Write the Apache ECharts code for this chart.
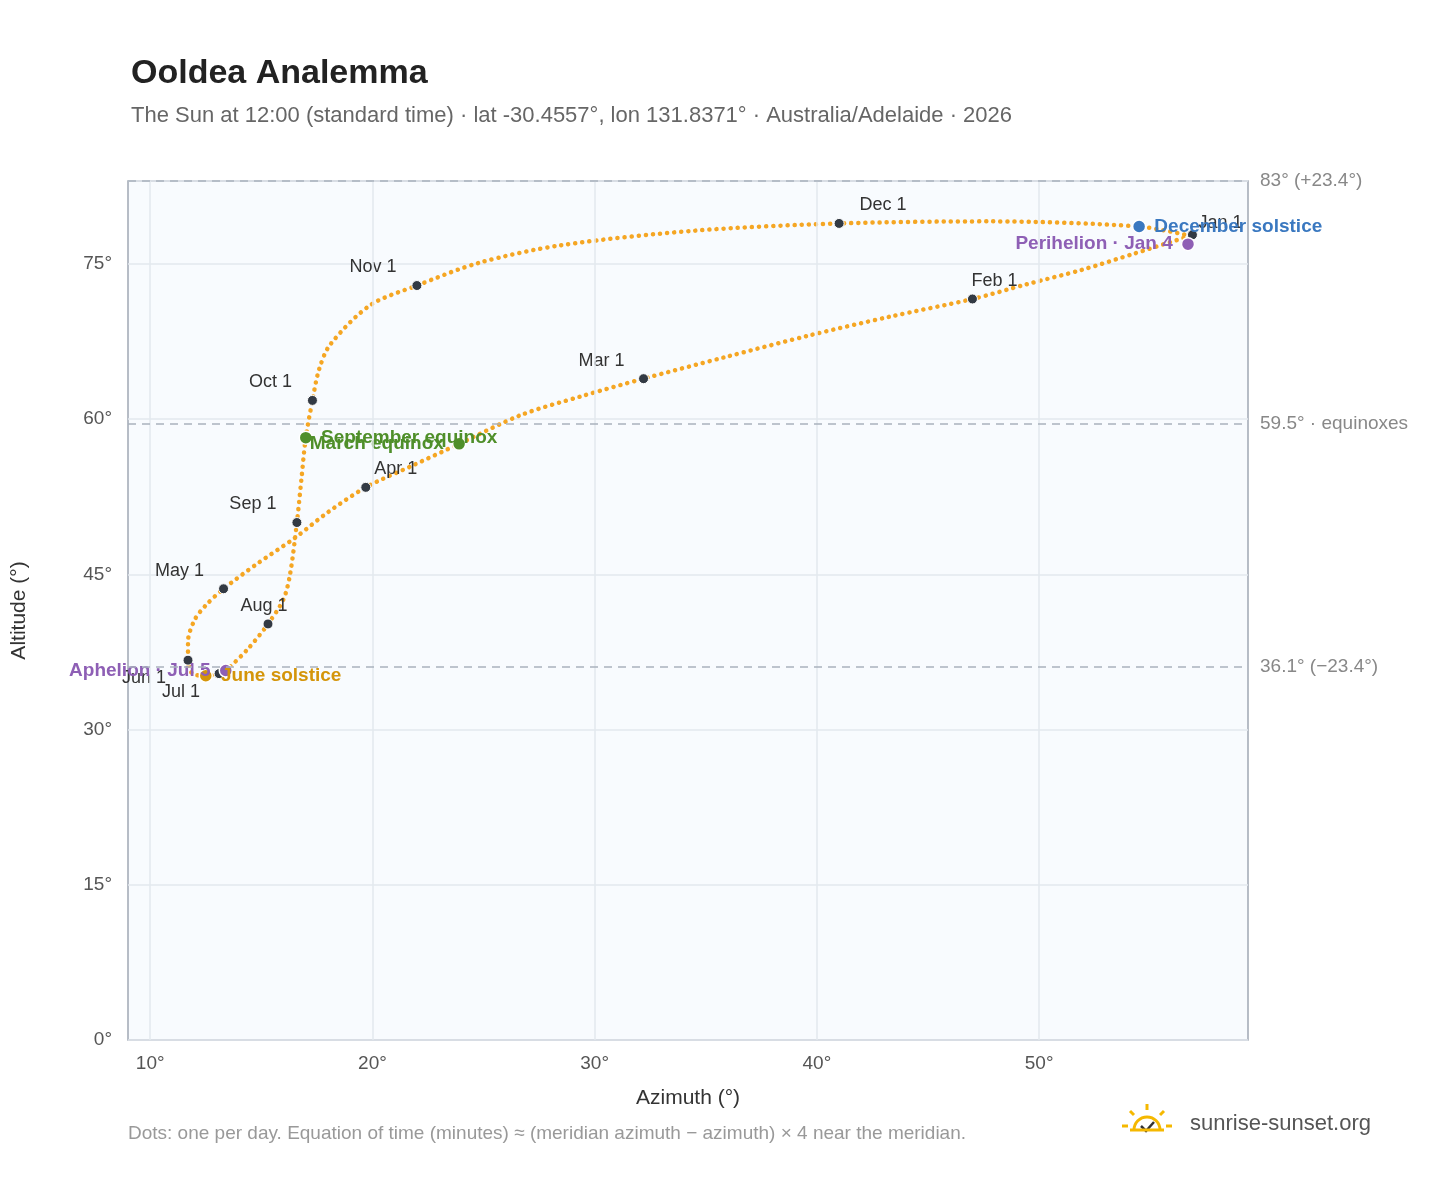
<!DOCTYPE html>
<html><head><meta charset="utf-8">
<script src="https://cdn.jsdelivr.net/npm/echarts@6/dist/echarts.min.js"></script>
<style>html,body{margin:0;background:#fff}#c{width:1448px;height:1188px}</style>
</head><body><div id="c"></div>
<script>
// analemma path (azimuth°, altitude°), in date order
const pathAz = [56.8, 54.3, 51.9, 49.4, 47.0, 43.3, 39.7, 35.9, 32.2, 29.4, 26.7, 23.9, 21.8, 19.7, 18.0, 16.5, 14.8, 13.3, 12.5, 12.0, 11.7, 11.7, 11.9, 12.5, 13.1, 13.4, 14.4, 15.3, 16.0, 16.3, 16.6, 16.8, 17.0, 17.3, 17.6, 18.1, 19.9, 22.0, 24.8, 28.5, 34.5, 41.0, 47.8, 54.5, 56.8];
const pathAlt = [77.7, 76.0, 74.4, 73.0, 71.6, 69.9, 68.1, 66.0, 63.9, 62.2, 60.4, 57.6, 55.5, 53.4, 51.0, 48.5, 46.0, 43.6, 42.0, 40.6, 38.5, 36.7, 35.4, 35.2, 35.4, 35.7, 37.8, 40.2, 42.6, 45.1, 50.0, 54.1, 58.2, 61.8, 64.8, 67.2, 71.0, 72.9, 75.1, 76.8, 78.2, 78.9, 79.1, 78.6, 77.7];

const monthNames = ['Jan 1', 'Feb 1', 'Mar 1', 'Apr 1', 'May 1', 'Jun 1', 'Jul 1', 'Aug 1', 'Sep 1', 'Oct 1', 'Nov 1', 'Dec 1'];
const monthAz = [56.9, 47.0, 32.2, 19.7, 13.3, 11.7, 13.1, 15.3, 16.6, 17.3, 22.0, 41.0];
const monthAlt = [77.8, 71.6, 63.9, 53.4, 43.6, 36.7, 35.4, 40.2, 50.0, 61.8, 72.9, 78.9];
const monthLabelOffset = [[28, -12], [22, -18], [-42, -18], [30, -18], [-44, -18], [-44, 18], [-38, 18], [-4, -18], [-44, -18], [-42, -18], [-44, -18], [44, -18]];

const eventNames = ['March equinox', 'September equinox', 'June solstice', 'December solstice', 'Perihelion · Jan 4', 'Aphelion · Jul 5'];
const eventAz = [23.9, 17.0, 12.5, 54.5, 56.7, 13.4];
const eventAlt = [57.6, 58.2, 35.2, 78.6, 76.9, 35.7];
const eventColors = ['#4f8f2a', '#4f8f2a', '#d4950a', '#3a78c0', '#8e5fb5', '#8e5fb5'];
const eventLabelPos = ['left', 'right', 'right', 'right', 'left', 'left'];

const xGrid = [10, 20, 30, 40, 50];
const refLevels = [83, 59.5, 36.1];
const refLabels = ['83° (+23.4°)', '59.5° · equinoxes', '36.1° (−23.4°)'];

const chart = echarts.init(document.getElementById('c'));
const font = '"Liberation Sans", Arial, sans-serif';

chart.setOption({
  textStyle: { fontFamily: font },
  title: {
    text: 'Ooldea Analemma',
    subtext: 'The Sun at 12:00 (standard time) · lat -30.4557°, lon 131.8371° · Australia/Adelaide · 2026',
    left: 126, top: 52,
    textStyle: { fontSize: 34, fontWeight: 'bold', color: '#222', fontFamily: font },
    subtextStyle: { fontSize: 22, color: '#666', fontFamily: font }, itemGap: 14
  },
  grid: { left: 128, right: 200, top: 181, bottom: 148, backgroundColor: '#f8fbfe', show: true, borderColor: '#a0a8b4', borderWidth: 1.5 },
  xAxis: {
    type: 'value', min: 9, max: 59.4, interval: 1,
    name: 'Azimuth (°)', nameLocation: 'middle', nameGap: 48,
    nameTextStyle: { fontSize: 21, color: '#333' },
    axisLabel: { fontSize: 19, color: '#555', margin: 14, showMaxLabel: false, formatter: v => v % 10 === 0 ? v + '°' : '' },
    axisTick: { show: false }, axisLine: { show: false }, splitLine: { show: false }
  },
  yAxis: {
    type: 'value', min: 0, max: 83, interval: 15,
    name: 'Altitude (°)', nameLocation: 'middle', nameGap: 98,
    nameTextStyle: { fontSize: 21, color: '#333' },
    axisLabel: { fontSize: 19, color: '#555', margin: 16, formatter: v => v % 15 === 0 ? v + '°' : '' },
    axisTick: { show: false }, axisLine: { show: false },
    splitLine: { lineStyle: { color: '#e3e8ee', width: 1.5 } }
  },
  series: [
    {
      type: 'line', symbol: 'none', silent: true, data: [],
      markLine: {
        silent: true, symbol: 'none', label: { show: false },
        lineStyle: { color: '#e3e8ee', type: 'solid', width: 1.5 },
        data: xGrid.map(v => ({ xAxis: v }))
      },
      z: 1
    },
    {
      type: 'line', smooth: 0.3, symbol: 'none',
      data: pathAz.map((a, i) => [a, pathAlt[i]]),
      lineStyle: { color: '#f5a623', width: 4.5, type: [0.1, 7], cap: 'round' },
      markLine: {
        silent: true, symbol: 'none',
        lineStyle: { color: '#a9b2bd', type: [8, 6], width: 1.5 },
        label: { position: 'end', color: '#888', fontSize: 19, distance: 12 },
        data: refLevels.map((v, i) => ({ yAxis: v, label: { formatter: refLabels[i] } }))
      },
      z: 2
    },
    {
      type: 'scatter', symbolSize: 10,
      itemStyle: { color: '#333a44', borderColor: '#fff', borderWidth: 1, opacity: 1 },
      data: monthNames.map((n, i) => ({ value: [monthAz[i], monthAlt[i]], name: n, label: { offset: monthLabelOffset[i] } })),
      label: { show: true, position: 'inside', formatter: '{b}', color: '#333', fontSize: 18 },
      z: 3
    },
    {
      type: 'scatter', symbolSize: 13,
      data: eventNames.map((n, i) => ({
        value: [eventAz[i], eventAlt[i]], name: n,
        itemStyle: { color: eventColors[i], borderColor: '#fff', borderWidth: 1.5, opacity: 1 },
        label: { position: eventLabelPos[i], color: eventColors[i] }
      })),
      label: { show: true, formatter: '{b}', fontSize: 19, fontWeight: 'bold', distance: 8 },
      z: 4
    }
  ],
  graphic: [
    { type: 'text', left: 128, top: 1124, style: { text: 'Dots: one per day. Equation of time (minutes) ≈ (meridian azimuth − azimuth) × 4 near the meridian.', fontSize: 19, fill: '#999', fontFamily: font } },
    { type: 'text', left: 1190, top: 1113, style: { text: 'sunrise-sunset.org', fontSize: 22, fill: '#555', fontFamily: font } },
    { type: 'arc', shape: { cx: 1147, cy: 1130, r: 13, startAngle: Math.PI, endAngle: 2 * Math.PI }, style: { stroke: '#f5b800', lineWidth: 3, fill: 'none' } },
    { type: 'polyline', shape: { points: [[1141, 1126], [1146, 1131], [1154, 1122]] }, style: { stroke: '#333', lineWidth: 2.5, fill: 'none' } },
    { type: 'line', shape: { x1: 1147, y1: 1104, x2: 1147, y2: 1110 }, style: { stroke: '#f5b800', lineWidth: 3 } },
    { type: 'line', shape: { x1: 1130, y1: 1111, x2: 1134, y2: 1115 }, style: { stroke: '#f5b800', lineWidth: 3 } },
    { type: 'line', shape: { x1: 1164, y1: 1111, x2: 1160, y2: 1115 }, style: { stroke: '#f5b800', lineWidth: 3 } },
    { type: 'line', shape: { x1: 1122, y1: 1126, x2: 1128, y2: 1126 }, style: { stroke: '#f5b800', lineWidth: 3 } },
    { type: 'line', shape: { x1: 1166, y1: 1126, x2: 1172, y2: 1126 }, style: { stroke: '#f5b800', lineWidth: 3 } },
    { type: 'line', shape: { x1: 1130, y1: 1130, x2: 1164, y2: 1130 }, style: { stroke: '#f5b800', lineWidth: 3 } }
  ]
});
</script></body></html>
